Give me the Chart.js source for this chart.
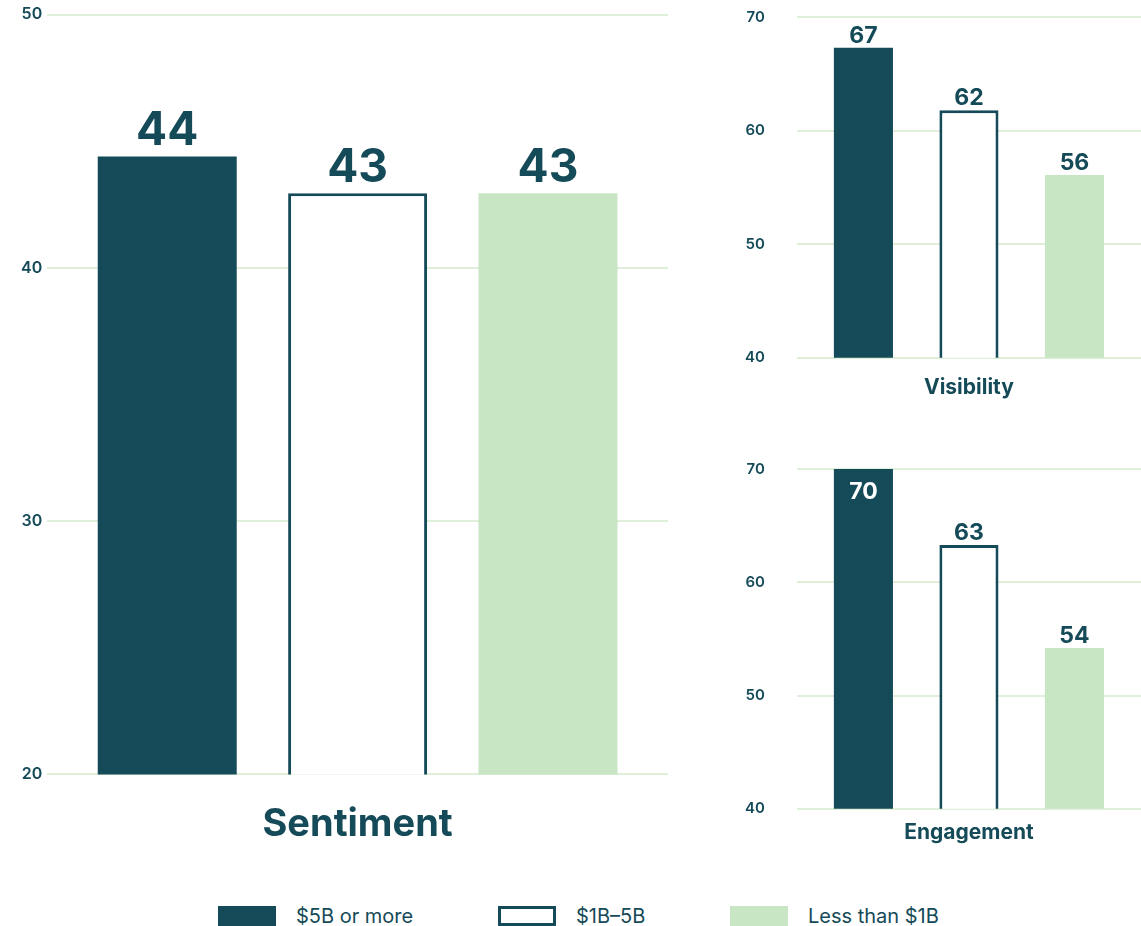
<!DOCTYPE html>
<html>
<head>
<meta charset="utf-8">
<script src="https://cdn.jsdelivr.net/npm/chart.js@4.4.1/dist/chart.umd.min.js"></script>
<style>
  body { margin: 0; background: #fff; width: 1141px; height: 926px; position: relative; overflow: hidden; font-family: Inter, sans-serif; }
  .box { position: absolute; }
  #legend { position: absolute; left: 0; top: 904px; width: 1141px; height: 24px; }
  .item { position: absolute; top: 0; display: flex; align-items: center; color: #154a58; font-size: 20px; }
  .swatch { width: 58px; height: 20px; box-sizing: border-box; margin-right: 20px; }
</style>
</head>
<body>
<div class="box" style="left:0;top:0;width:680px;height:866px"><canvas id="sentiment"></canvas></div>
<div class="box" style="left:712px;top:0;width:429px;height:409px"><canvas id="visibility"></canvas></div>
<div class="box" style="left:712px;top:452px;width:429px;height:396px"><canvas id="engagement"></canvas></div>
<div id="legend"></div>
<script>
// ---- data ----
const groups = ['$5B or more', '$1B\u20135B', 'Less than $1B']
const sentimentValues = [44.4, 42.95, 42.95]
const visibilityValues = [67.3, 61.8, 56.1]
const engagementValues = [70, 63.3, 54.2]
const sentimentTicks = [20, 50]
const sideTicks = [40, 70]

const dark = '#154a58'
const light = '#c8e6c4'
const grid = '#dfefd9'

let fills = [dark, '#ffffff', light]
let borders = [dark, dark, light]
let legendLeft = [218, 498, 730]

// draws the rounded value on top of every bar (white inside the bar when there is no room)
const valueLabels = {
    id: 'valueLabels',
    afterDatasetsDraw(chart, args, opts) {
        const ctx = chart.ctx
        ctx.save()
        ctx.font = '700 ' + opts.size + 'px Inter'
        ctx.textAlign = 'center'
        chart.data.datasets.forEach(function(ds, i) {
            chart.getDatasetMeta(i).data.forEach(function(bar, j) {
                let txt = Math.round(ds.data[j])
                if (bar.y - opts.size - opts.gap < chart.chartArea.top) {
                    ctx.fillStyle = '#ffffff'
                    ctx.textBaseline = 'top'
                    ctx.fillText(txt, bar.x, bar.y + 12)
                } else {
                    ctx.fillStyle = dark
                    ctx.textBaseline = 'alphabetic'
                    ctx.fillText(txt, bar.x, bar.y - opts.gap)
                }
            })
        })
        ctx.restore()
    }
}

function makeChart(id, title, values, range, opt) {
    let datasets = groups.map(function(g, i) {
        return {
            label: g,
            data: [values[i]],
            backgroundColor: fills[i],
            borderColor: borders[i],
            borderWidth: i === 1 ? 3 : 0,
            borderSkipped: false,
            barPercentage: opt.barPct,
            categoryPercentage: opt.catPct
        }
    })
    return new Chart(document.getElementById(id), {
        type: 'bar',
        data: { labels: [title], datasets: datasets },
        plugins: [valueLabels],
        options: {
            responsive: true,
            maintainAspectRatio: false,
            animation: false,
            layout: { padding: opt.padding },
            scales: {
                x: {
                    grid: { display: false },
                    border: { display: false },
                    ticks: { color: dark, padding: opt.xPad, font: { family: 'Inter', weight: '700', size: opt.titleSize } }
                },
                y: {
                    min: range[0],
                    max: range[1],
                    grid: { color: grid, lineWidth: 2, drawTicks: opt.tickLen > 0, tickLength: opt.tickLen, tickColor: 'rgba(0,0,0,0)' },
                    border: { display: false },
                    ticks: { stepSize: 10, color: dark, padding: opt.yPad, font: { family: 'Inter', weight: '600', size: opt.tickSize } }
                }
            },
            plugins: {
                legend: { display: false },
                tooltip: { enabled: false },
                valueLabels: { size: opt.labelSize, gap: opt.gap }
            }
        }
    })
}

makeChart('sentiment', 'Sentiment', sentimentValues, sentimentTicks, {
    barPct: 0.73, catPct: 0.92, padding: { left: 16, top: 8, right: 12, bottom: 0 },
    xPad: 19, yPad: 5, tickLen: 0, titleSize: 38, tickSize: 16, labelSize: 46, gap: 11
})
makeChart('visibility', 'Visibility', visibilityValues, sideTicks, {
    barPct: 0.56, catPct: 0.92, padding: { left: 25, top: 11, right: 0, bottom: 0 },
    xPad: 9, yPad: 8, tickLen: 24, titleSize: 21, tickSize: 15, labelSize: 23, gap: 5
})
makeChart('engagement', 'Engagement', engagementValues, sideTicks, {
    barPct: 0.56, catPct: 0.92, padding: { left: 25, top: 11, right: 0, bottom: 0 },
    xPad: 3, yPad: 8, tickLen: 24, titleSize: 21, tickSize: 15, labelSize: 23, gap: 5
})

// html legend
let legend = document.getElementById('legend')
groups.forEach(function(g, i) {
    let item = document.createElement('div')
    item.className = 'item'
    item.style.left = legendLeft[i] + 'px'
    item.innerHTML = `<div class="swatch" style="background:${fills[i]};border:${i === 1 ? 3 : 0}px solid ${borders[i]}"></div><span>${g}</span>`
    legend.appendChild(item)
})
</script>
</body>
</html>
